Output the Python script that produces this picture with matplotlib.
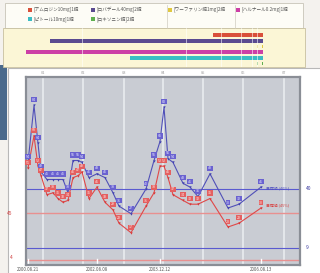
import matplotlib
matplotlib.use("Agg")
import matplotlib.pyplot as plt
from matplotlib.patches import Rectangle

plt.rcParams['font.family'] = ['Noto Sans CJK JP', 'DejaVu Sans']

# ---------------- data ----------------
x_pos = [2, 8, 12, 15, 21, 27, 32, 37, 42, 47, 52, 56, 63, 71, 79, 87, 93, 105,
         120, 128, 134, 138, 142, 147, 157, 164, 172, 184, 202, 213, 235]
blue_vals = [54, 84, 64, 49, 45, 45, 45, 45, 38, 55, 55, 54, 46, 48, 46, 38, 31, 27,
             40, 55, 65, 83, 56, 54, 43, 41, 36, 48, 30, 32, 41]
red_vals = [51, 68, 52, 47, 37, 38, 35, 33, 34, 46, 47, 49, 35, 41, 33, 29, 22, 17,
            31, 38, 52, 52, 46, 37, 34, 32, 32, 35, 20, 22, 30]

date_labels = ["2000.08.21", "2002.08.08", "2003.12.12", "2006.08.13"]
date_label_idx = [0, 13, 20, 30]

blue_ref = [40, 9]
red_ref = [27.4, 2.6]
left_ref_labels = ["45", "4"]
right_ref_labels = ["40", "9"]
ref_texts = ["目標値 (40%)", "目標値 (45%)"]

grid_x = [17, 57, 98, 137, 177, 217, 258]
top_tick_labels = ["01", "02", "03", "04", "05", "06", "07"]

med_names = ["[アムロジン10mg]1錠", "[ロバデール40mg]2錠", "[ワーファリン錠1mg]2錠",
             "[ハルナール0.2mg]1錠", "[ピトール10mg]1錠", "[ロキソニン錠]2錠"]
med_colors = ["#d9503a", "#5a4a90", "#e0c840", "#cc3fa6", "#3bbdc4", "#5fb04f"]
med_start = [187, 24, 231, 0, 104, 231]
med_end = [237, 237, 237, 237, 237, 237]

# ---------------- figure ----------------
W, H = 320, 273
fig = plt.figure(figsize=(W / 100, H / 100), dpi=100)
fig.patch.set_facecolor("#f4f2ee")

def fx(px):
    return px / W

def fy(py):
    return 1 - py / H

def bg_rect(x0, y0, x1, y1, fc, ec="none", lw=0.0):
    r = Rectangle((fx(x0), fy(y1)), fx(x1 - x0), fy(y0) - fy(y1), transform=fig.transFigure,
                  facecolor=fc, edgecolor=ec, lw=lw, zorder=-5)
    fig.patches.append(r)

# left photo artifact
bg_rect(0, 65, 7, 140, "#4a6a8c")
# white main panel
bg_rect(8, 68, 322, 275, "#ffffff", "#b8b8b8", 0.8)
# legend box
bg_rect(5, 3, 303, 28, "#fdfcf6", "#c8c4b8", 0.6)
# yellow band
bg_rect(3, 28, 305, 67, "#fbf6d6", "#c8c0a0", 0.6)
for sx in [167, 235]:
    fig.lines.append(plt.Line2D([fx(sx), fx(sx)], [fy(28), fy(5)], transform=fig.transFigure,
                                color="#d0ccc0", lw=0.5))

# legend entries
leg_pos = [(28, 9), (91, 9), (168, 9), (236, 9), (28, 19), (91, 19)]
for (lx, ly), name, col in zip(leg_pos, med_names, med_colors):
    fig.patches.append(Rectangle((fx(lx), fy(ly + 2.5)), fx(4), fy(ly - 1.5) - fy(ly + 2.5),
                                 transform=fig.transFigure, facecolor=col, edgecolor="none"))
    fig.text(fx(lx + 5.5), fy(ly + 0.5), name, fontsize=3.3, color="#555555",
             va="center", ha="left")

# ---------------- medication bars ----------------
bx = fig.add_axes([fx(26), fy(67), fx(274), fy(28) - fy(67)])
bx.set_xlim(0, 274)
bx.set_ylim(67, 28)
bx.axis("off")
bar_y = [35, 41, 46.5, 52, 58, 63.5]
bar_h = [4, 4, 1.5, 4, 4, 1.5]
for i in range(len(med_names)):
    if bar_h[i] > 2:
        bx.barh(bar_y[i], med_end[i] - med_start[i], left=med_start[i], height=bar_h[i],
                color=med_colors[i], edgecolor="none")
    else:
        for mx in (med_start[i], med_end[i] - 1):
            bx.barh(bar_y[i], 1, left=mx, height=bar_h[i] + 1, color=med_colors[i],
                    edgecolor="none")
for sx in [56, 160, 195, 215, 226, 231]:
    bx.axvline(sx, color="white", lw=0.5, alpha=0.8)

# ---------------- main chart ----------------
ax = fig.add_axes([fx(26), fy(265), fx(274), fy(77) - fy(265)])
ax.set_facecolor("#c9ccd3")
ax.set_xlim(0, 274)
ax.set_ylim(0, 188 / 1.9)
for s in ax.spines.values():
    s.set_color("#8a8e96")
    s.set_linewidth(1.6)
ax.set_xticks([])
ax.set_yticks([])

for gx, tl in zip(grid_x, top_tick_labels):
    ax.axvline(gx, color="#eceef2", lw=1.1, zorder=1)
    ax.text(gx, 1.01, tl, transform=ax.get_xaxis_transform(),
            fontsize=2.8, color="#9a9a9a", ha="center", va="bottom")

ax.axhline(blue_ref[0], color="#5a5ad0", lw=0.8, zorder=2)
ax.axhline(red_ref[0], color="#e89090", lw=1.0, zorder=2)
ax.axhline(blue_ref[1], color="#5a5ad0", lw=0.8, zorder=2)
ax.axhline(red_ref[1], color="#e89090", lw=1.0, zorder=2)

ax.plot(x_pos, blue_vals, color="#5050b8", lw=0.8, zorder=3)
ax.plot(x_pos, red_vals, color="#e04848", lw=0.8, zorder=3)
ax.scatter(x_pos, blue_vals, marker="v", s=3, color="#4040b0", zorder=4, lw=0)
ax.scatter(x_pos, red_vals, marker="v", s=3, color="#d83838", zorder=4, lw=0)

for xv, bv, rv in zip(x_pos, blue_vals, red_vals):
    ax.annotate(str(bv), (xv, bv), xytext=(0, 2.5), textcoords="offset points",
                fontsize=2.6, color="#e8e8ff", ha="center", va="bottom", zorder=5,
                bbox=dict(boxstyle="square,pad=0.15", fc="#6a62d0", ec="none"))
    ax.annotate(str(rv), (xv, rv), xytext=(0, 2.5), textcoords="offset points",
                fontsize=2.6, color="#ffe8e8", ha="center", va="bottom", zorder=5,
                bbox=dict(boxstyle="square,pad=0.15", fc="#e46060", ec="none"))

ax.text(x_pos[-1] + 5, blue_ref[0] + 0.3, ref_texts[0], fontsize=2.8, color="#5050c0",
        ha="left", va="center", zorder=5)
ax.text(x_pos[-1] + 5, red_vals[-1] + 1.5, ref_texts[1], fontsize=2.8, color="#d84040",
        ha="left", va="center", zorder=5)

# side labels
for v, lab in zip(blue_ref, right_ref_labels):
    ax.text(1.02, v, lab, transform=ax.get_yaxis_transform(), fontsize=3.5,
            color="#3a3aa0", ha="left", va="center")
for v, lab in zip([27.0, 3.7], left_ref_labels):
    ax.text(-0.05, v, lab, transform=ax.get_yaxis_transform(), fontsize=3.5,
            color="#d04040", ha="right", va="center")

# bottom date labels
for idx, lab in zip(date_label_idx, date_labels):
    ax.axvline(x_pos[idx], ymin=0, ymax=0.03, color="white", lw=1.0, zorder=2)
    ax.text(x_pos[idx], -0.012, lab, transform=ax.get_xaxis_transform(), fontsize=3.2,
            color="#555555", ha="center", va="top")

fig.savefig("out.png", dpi=100)
